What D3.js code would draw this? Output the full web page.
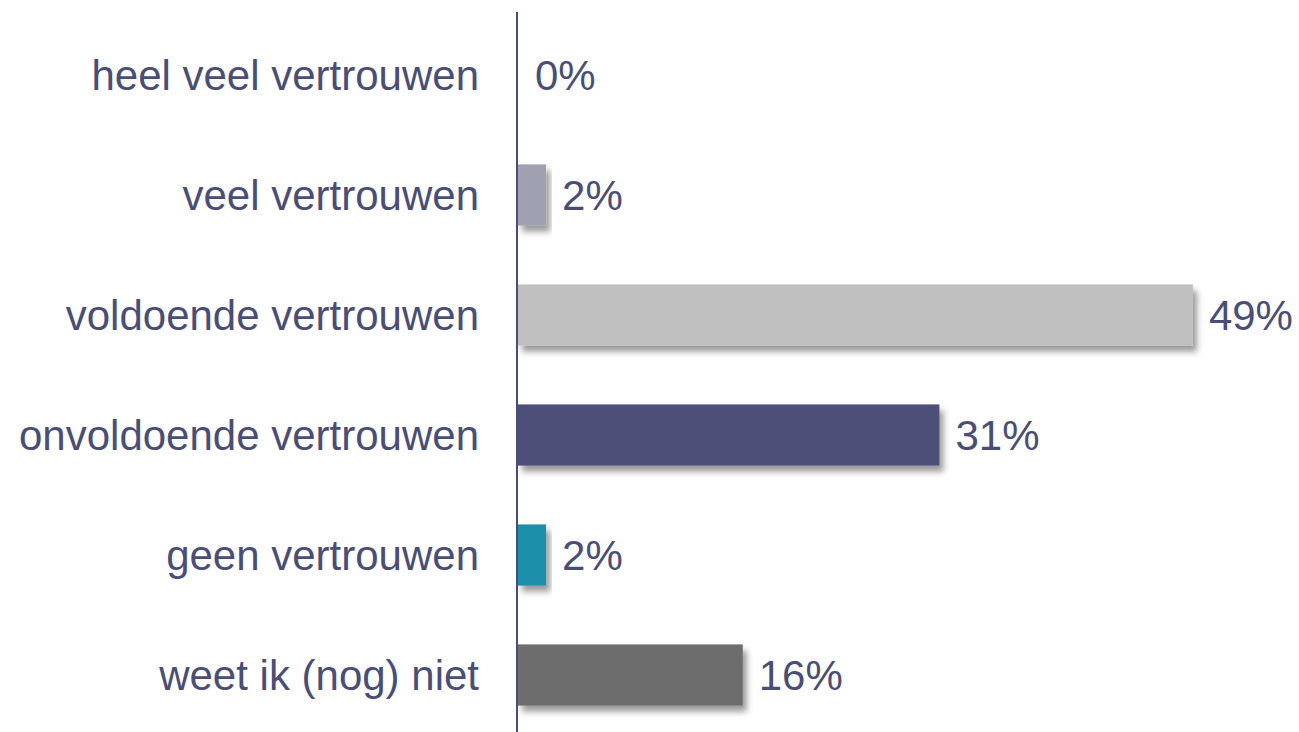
<!DOCTYPE html>
<meta charset="utf-8">
<style>
body{
	margin:0;
	background:#fff;
}
text{
	font-family:"Liberation Sans", Arial, sans-serif;
	font-size:42px;
	fill:#4a4e74;
}
.axis line{
	stroke:#4a4e74;
	stroke-width:2px;
}
</style>
<body>
<script src="https://cdnjs.cloudflare.com/ajax/libs/d3/7.8.5/d3.min.js"></script>
<script>

var categories=['heel veel vertrouwen','veel vertrouwen','voldoende vertrouwen','onvoldoende vertrouwen','geen vertrouwen','weet ik (nog) niet'];
var values=[0.2,2.1,48.8,30.5,2.1,16.3];
var labels=['0%','2%','49%','31%','2%','16%'];
var colors=['#9fa0b0','#9fa0b0','#c0c0c0','#4e5078','#1f8fab','#6d6d6d'];

var width=1299, height=732;
var svg=d3.select("body").append("svg").attr("width",width).attr("height",height);

var defs=svg.append("defs");
var f=defs.append("filter").attr("id","shadow")
	.attr("x","-10%").attr("y","-20%").attr("width","130%").attr("height","160%");
f.append("feDropShadow").attr("dx",4).attr("dy",6).attr("stdDeviation",3)
	.attr("flood-color","#000").attr("flood-opacity",0.4);

var x=d3.scaleLinear().domain([0,100]).range([517,517+1385]);
var y=d3.scaleBand().domain(categories).range([15,735]).paddingInner(0.49).paddingOuter(0.245);

var data=categories.map((c,i)=>({cat:c,v:values[i],lab:labels[i],col:colors[i]}));

svg.selectAll(".bar").data(data.filter(d=>d.v>=1)).enter().append("rect")
	.attr("class","bar")
	.attr("x",x(0)+1)
	.attr("y",d=>y(d.cat))
	.attr("width",d=>x(d.v)-x(0)-1)
	.attr("height",y.bandwidth())
	.attr("fill",d=>d.col)
	.attr("filter","url(#shadow)");

svg.append("g").attr("class","axis")
	.append("line").attr("x1",x(0)).attr("x2",x(0)).attr("y1",12).attr("y2",height);

svg.selectAll(".cat").data(data).enter().append("text")
	.attr("class","cat")
	.attr("x",479)
	.attr("y",d=>y(d.cat)+y.bandwidth()/2)
	.attr("dy","0.35em")
	.attr("text-anchor","end")
	.text(d=>d.cat);

svg.selectAll(".val").data(data).enter().append("text")
	.attr("class","val")
	.attr("x",d=>(d.v>=1? x(d.v):x(0)+2)+16)
	.attr("y",d=>y(d.cat)+y.bandwidth()/2)
	.attr("dy","0.35em")
	.text(d=>d.lab);

</script>
</body>
</html>
